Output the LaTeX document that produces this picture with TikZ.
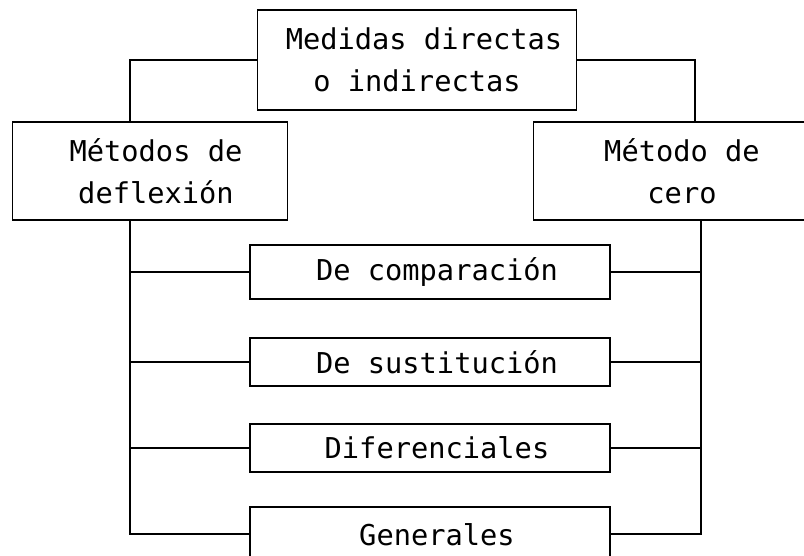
\documentclass[tikz,border=0pt]{standalone}
\usepackage{fontspec}
\newfontfamily\boxfont{DejaVu Sans Mono}
\begin{document}
\begin{tikzpicture}[x=1pt,y=-1pt,
  box/.style={draw,line width=1.9pt,inner sep=0pt,rectangle,align=center,
    font=\boxfont\fontsize{28.7}{42}\selectfont},
  conn/.style={line width=1.9pt}]
\useasboundingbox (0,0) rectangle (804,556);
\clip (0,0) rectangle (804,556);
\fill[white] (0,0) rectangle (804,556);
\node[box,minimum width=319pt,minimum height=100pt] (top) at (417,60) {\hspace*{14pt}Medidas directas\\o indirectas};
\node[box,minimum width=275pt,minimum height=98pt] (left) at (150,171) {\hspace*{12pt}Métodos de\\\hspace*{12pt}deflexión};
\node[box,minimum width=297pt,minimum height=98pt] (right) at (682,171) {Método de\\cero};
\node[box,minimum width=360pt,minimum height=54pt] (comp) at (430,272) {\hspace*{14pt}De comparación};
\node[box,minimum width=360pt,minimum height=48pt] (sust) at (430,362) {\hspace*{14pt}De sustitución};
\node[box,minimum width=360pt,minimum height=48pt] (dif) at (430,448) {\hspace*{14pt}Diferenciales};
\node[box,minimum width=360pt,minimum height=56pt] (gen) at (430,535) {\hspace*{14pt}Generales};
\coordinate (lt) at (130,534);
\coordinate (rt) at (701,534);
\draw[conn] (top.west) -| ([xshift=-20pt]left.north);
\draw[conn] (top.east) -| ([xshift=13pt]right.north);
\draw[conn] ([xshift=-20pt]left.south) -- (lt) -- (lt -| gen.west);
\draw[conn] (comp.west) -- (comp.west -| lt);
\draw[conn] (sust.west) -- (sust.west -| lt);
\draw[conn] (dif.west) -- (dif.west -| lt);
\draw[conn] ([xshift=19pt]right.south) -- (rt) -- (rt -| gen.east);
\draw[conn] (comp.east) -- (comp.east -| rt);
\draw[conn] (sust.east) -- (sust.east -| rt);
\draw[conn] (dif.east) -- (dif.east -| rt);
\end{tikzpicture}
\end{document}
